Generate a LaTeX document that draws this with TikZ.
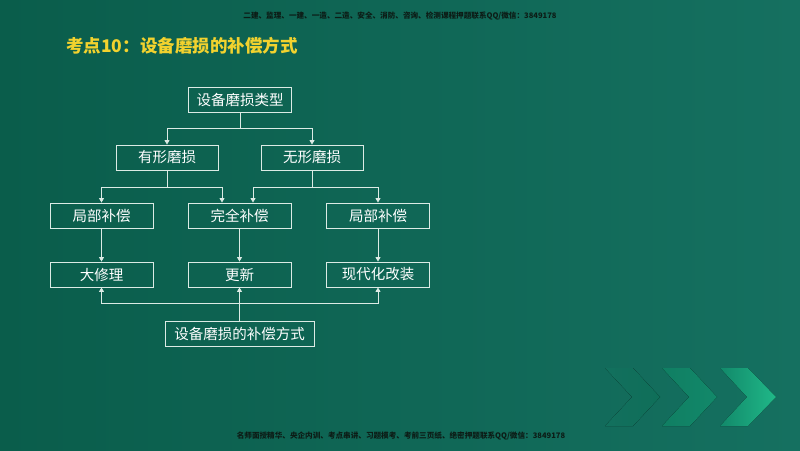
\documentclass[tikz,border=0pt]{standalone}
\usepackage{fontspec}
\setmainfont{Noto Sans CJK SC}
\usetikzlibrary{arrows.meta}
\definecolor{bgA}{HTML}{0A5D4B}
\definecolor{bgB}{HTML}{157060}
\definecolor{lineC}{HTML}{DCEBE5}
\definecolor{titleY}{HTML}{F2D22E}
\definecolor{wmC}{HTML}{0C1C16}
\definecolor{chA}{HTML}{12896A}
\definecolor{chB}{HTML}{20B888}
\definecolor{chC}{HTML}{0F6F59}
\begin{document}
\begin{tikzpicture}[x=1pt,y=-1pt,
  box/.style={draw=lineC, line width=0.9pt, minimum width=103pt, minimum height=25pt, inner sep=0pt, text=white, font=\fontsize{14.5}{16}\selectfont},
  conn/.style={draw=lineC, line width=0.8pt},
  arr/.style={conn, -{Triangle[width=5pt,length=4.5pt]}},
  wm/.style={text=wmC, font=\fontsize{7.6}{9}\selectfont\bfseries, inner sep=0pt}]
\useasboundingbox (0,0) rectangle (800,450);
\shade[shading=axis, left color=bgA, middle color=bgA, right color=bgB] (0,0) rectangle (800,450);
% chevrons
\fill[left color=chC!40!bgB, right color=chC] (605,368) -- (633,368) -- (660,397) -- (633,426) -- (605,426) -- (632,397) -- cycle;
\fill[left color=chA!75!bgA, right color=chA] (662,368) -- (690,368) -- (717,397) -- (690,426) -- (662,426) -- (689,397) -- cycle;
\fill[left color=chA, right color=chB] (720,368) -- (748,368) -- (776,397) -- (748,426) -- (720,426) -- (747,397) -- cycle;
% texts
\node[wm] (wtop) at (400,16) {二建、监理、一建、一造、二造、安全、消防、咨询、检测课程押题联系QQ/微信：3849178};
\node[wm] (wbot) at (401,436) {名师面授精华、央企内训、考点串讲、习题模考、考前三页纸、绝密押题联系QQ/微信：3849178};
\node[anchor=west, inner sep=0pt, text=titleY, font=\fontsize{17.5}{20}\selectfont\bfseries] (title) at (66,46) {考点10：设备磨损的补偿方式};
% boxes
\node[box] (t) at (240,99.5) {设备磨损类型};
\node[box, minimum width=102pt] (y) at (167,157.5) {有形磨损};
\node[box, minimum width=102pt] (w) at (312,157.5) {无形磨损};
\node[box] (l1) at (101.5,215.5) {局部补偿};
\node[box] (q) at (239.5,215.5) {完全补偿};
\node[box] (l2) at (378,215.5) {局部补偿};
\node[box] (d) at (101.5,274.5) {大修理};
\node[box] (g) at (239.5,274.5) {更新};
\node[box] (x) at (378,274.5) {现代化改装};
\node[box, minimum width=149pt] (b) at (239.5,333.5) {设备磨损的补偿方式};
% connectors
\draw[conn] (t.south) -- ++(0,16) coordinate (tj);
\draw[arr] (tj) -| (y.north);
\draw[arr] (tj) -| (w.north);
\draw[conn] (y.south) -- ++(0,17) coordinate (yj);
\draw[arr] (yj) -| (l1.north);
\draw[arr] (yj) -| ([xshift=-17.5pt]q.north);
\draw[conn] (w.south) -- ++(0,17) coordinate (wj);
\draw[arr] (wj) -| ([xshift=13.5pt]q.north);
\draw[arr] (wj) -| (l2.north);
\draw[arr] (l1.south) -- (d.north);
\draw[arr] (q.south) -- (g.north);
\draw[arr] (l2.south) -- (x.north);
\draw[arr] (b.north) -- (g.south);
\path (b.north) ++(0,-17) coordinate (bj);
\draw[arr] (bj) -| (d.south);
\draw[arr] (bj) -| (x.south);
\end{tikzpicture}
\end{document}
